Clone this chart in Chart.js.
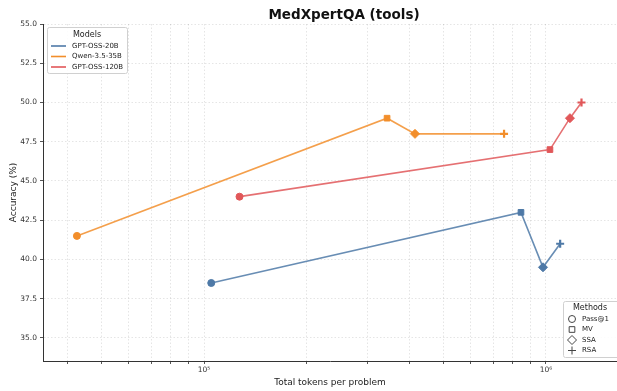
<!DOCTYPE html>
<html>
<head>
<meta charset="utf-8">
<script src="https://cdn.jsdelivr.net/npm/chart.js@4/dist/chart.umd.min.js"></script>
<style>
  html, body { margin: 0; padding: 0; background: #fff; }
  #wrap { width: 617px; height: 391px; }
</style>
</head>
<body>
<div id="wrap"><canvas id="chart" width="617" height="391"></canvas></div>
<script>
// --- data ---
const methods = ['Pass@1', 'MV', 'SSA', 'RSA'];
const models = ['GPT-OSS-20B', 'Qwen-3.5-35B', 'GPT-OSS-120B'];

const gpt20Tokens = [105000, 845000, 980000, 1100000];
const gpt20Acc = [38.5, 43.0, 39.5, 41.0];

const qwenTokens = [42500, 343000, 414000, 754000];
const qwenAcc = [41.5, 49.0, 48.0, 48.0];

const gpt120Tokens = [127000, 1027000, 1175000, 1270000];
const gpt120Acc = [44.0, 47.0, 49.0, 50.0];

const yTicks = [35, 37.5, 40, 42.5, 45, 47.5, 50, 52.5, 55];
const xTicks = [40000, 50000, 60000, 70000, 80000, 90000,
                100000, 200000, 300000, 400000, 500000, 600000, 700000, 800000, 900000,
                1000000];
const xTickLabels = { 100000: '10\u2075', 1000000: '10\u2076' };

const MODEL_COLORS = ['#4e79a7', '#f28e2b', '#e15759'];
const METHOD_STYLES = ['circle', 'rect', 'rectRot', 'cross'];
const METHOD_RADII = [3.5, 4, 4.5, 4];
const METHOD_BORDERS = [1, 1, 1, 2.2];

const FONT = "'DejaVu Sans', sans-serif";

function makeDataset(label, tokens, acc, color) {
    return {
        label: label,
        data: tokens.map((t, i) => ({ x: t, y: acc[i] })),
        borderColor: color + 'd9',
        backgroundColor: color,
        pointBackgroundColor: color,
        pointBorderColor: color,
        pointBorderWidth: METHOD_BORDERS,
        pointStyle: METHOD_STYLES,
        pointRadius: METHOD_RADII,
        borderWidth: 1.6,
        tension: 0
    };
}

// --- title and legends drawn by hand (the reference figure is cropped on the right) ---
const legendPlugin = {
    id: 'twoLegends',
    afterDraw(chart) {
        const ctx = chart.ctx;
        const area = chart.chartArea;
        ctx.save();

        // title, centred on the full (uncropped) figure
        ctx.fillStyle = '#111';
        ctx.font = 'bold 13.5px ' + FONT;
        ctx.textAlign = 'center';
        ctx.textBaseline = 'middle';
        ctx.fillText('MedXpertQA (tools)', 344, 15);

        // Models legend (top-left)
        let bx = area.left + 4, by = area.top + 3, bw = 80, bh = 46;
        ctx.fillStyle = 'rgba(255,255,255,0.85)';
        ctx.strokeStyle = '#d0d0d0';
        ctx.lineWidth = 1;
        ctx.beginPath();
        ctx.roundRect(bx + 0.5, by + 0.5, bw, bh, 2);
        ctx.fill();
        ctx.stroke();
        ctx.fillStyle = '#222';
        ctx.font = '8px ' + FONT;
        ctx.fillText('Models', bx + bw / 2, by + 8);
        ctx.font = '7px ' + FONT;
        ctx.textAlign = 'left';
        models.forEach((m, i) => {
            const yy = by + 19 + i * 10.5;
            ctx.strokeStyle = MODEL_COLORS[i];
            ctx.lineWidth = 1.6;
            ctx.beginPath();
            ctx.moveTo(bx + 4, yy);
            ctx.lineTo(bx + 19, yy);
            ctx.stroke();
            ctx.fillStyle = '#222';
            ctx.fillText(m, bx + 25, yy);
        });

        // Methods legend (bottom-right)
        bx = 563; by = 301; bw = 60; bh = 56;
        ctx.fillStyle = 'rgba(255,255,255,0.85)';
        ctx.strokeStyle = '#d0d0d0';
        ctx.lineWidth = 1;
        ctx.beginPath();
        ctx.roundRect(bx + 0.5, by + 0.5, bw, bh, 2);
        ctx.fill();
        ctx.stroke();
        ctx.fillStyle = '#222';
        ctx.font = '8px ' + FONT;
        ctx.textAlign = 'center';
        ctx.fillText('Methods', bx + 27, by + 7);
        ctx.font = '7px ' + FONT;
        ctx.textAlign = 'left';
        methods.forEach((m, i) => {
            const yy = by + 18 + i * 10.5;
            ctx.strokeStyle = '#444';
            ctx.fillStyle = 'rgba(0,0,0,0)';
            Chart.helpers.drawPoint(ctx, {
                pointStyle: METHOD_STYLES[i],
                radius: METHOD_RADII[i],
                rotation: 0,
                borderWidth: i === 3 ? 1.4 : 0.8
            }, bx + 9, yy);
            ctx.fillStyle = '#222';
            ctx.fillText(m, bx + 19, yy);
        });

        ctx.restore();
    }
};

const gridColor = 'rgba(0,0,0,0.10)';

new Chart(document.getElementById('chart'), {
    type: 'line',
    data: {
        datasets: [
            makeDataset(models[0], gpt20Tokens, gpt20Acc, MODEL_COLORS[0]),
            makeDataset(models[1], qwenTokens, qwenAcc, MODEL_COLORS[1]),
            makeDataset(models[2], gpt120Tokens, gpt120Acc, MODEL_COLORS[2])
        ]
    },
    options: {
        responsive: false,
        animation: false,
        layout: { autoPadding: false, padding: { left: 0, right: 0, top: 24, bottom: 0 } },
        plugins: {
            legend: { display: false },
            tooltip: { enabled: false },
            title: { display: false }
        },
        scales: {
            x: {
                type: 'logarithmic',
                min: 33820,
                max: 1613000,
                afterBuildTicks: (scale) => {
                    scale.ticks = xTicks.map(v => ({ value: v, major: !!xTickLabels[v] }));
                },
                afterFit: (scale) => {
                    scale.height = 30;
                    scale.paddingLeft = 0;
                    scale.paddingRight = 0;
                },
                ticks: {
                    autoSkip: false,
                    maxRotation: 0,
                    color: '#333',
                    padding: 2,
                    font: { family: FONT, size: 7.5 },
                    callback: (v) => xTickLabels[v] || ''
                },
                grid: {
                    color: gridColor,
                    tickColor: '#555',
                    tickLength: 3,
                    drawTicks: true
                },
                border: { display: true, color: '#333', width: 1, dash: [1.5, 2] },
                title: {
                    display: true,
                    text: 'Total tokens per problem',
                    color: '#222',
                    font: { family: FONT, size: 9 },
                    padding: { top: 0, bottom: 3 }
                }
            },
            y: {
                min: 33.53,
                max: 55,
                afterBuildTicks: (scale) => {
                    scale.ticks = yTicks.map(v => ({ value: v }));
                },
                afterFit: (scale) => { scale.width = 43; },
                ticks: {
                    color: '#333',
                    padding: 3,
                    font: { family: FONT, size: 7.5 },
                    callback: (v) => Number(v).toFixed(1)
                },
                grid: {
                    color: gridColor,
                    tickColor: '#555',
                    tickLength: 3
                },
                border: { display: true, color: '#333', width: 1, dash: [1.5, 2] },
                title: {
                    display: true,
                    text: 'Accuracy (%)',
                    color: '#222',
                    font: { family: FONT, size: 9 },
                    padding: { top: 8, bottom: 0 }
                }
            }
        }
    },
    plugins: [legendPlugin]
});
</script>
</body>
</html>
